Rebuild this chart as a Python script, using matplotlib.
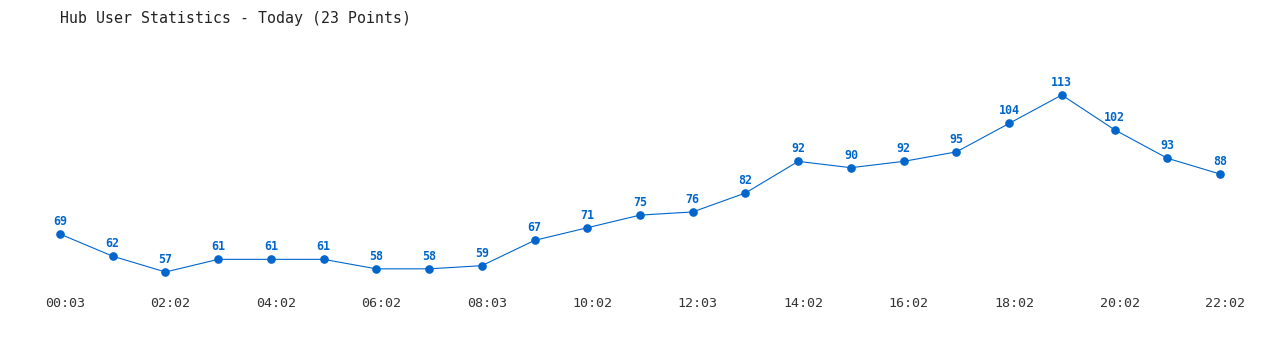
import matplotlib
matplotlib.use("Agg")
import matplotlib.pyplot as plt
import matplotlib.transforms as mtransforms

# donnees
times = ["00:03", "01:02", "02:02", "03:02", "04:02", "05:02", "06:02", "07:02",
         "08:03", "09:02", "10:02", "11:02", "12:03", "13:02", "14:02", "15:02",
         "16:02", "17:02", "18:02", "19:02", "20:02", "21:02", "22:02"]
users = [69, 62, 57, 61, 61, 61, 58, 58, 59, 67, 71, 75, 76, 82, 92, 90, 92, 95,
         104, 113, 102, 93, 88]
title = "Hub User Statistics - Today (23 Points)"

blue = "#0066cc"
mono = "DejaVu Sans Mono"

fig = plt.figure(figsize=(12.8, 3.5), dpi=100)
ax = fig.add_axes([0, 60/350, 1, 240/350])

n = len(users)
step = 1160 / (n - 1)
ax.set_xlim(-60/step, (n - 1) + 60/step)
ax.set_ylim(113 - 195/3.1607, 113 + 45/3.1607)

x = list(range(n))
ax.plot(x, users, color=blue, linewidth=0.8, marker="o", markersize=5.2)

#etiquettes des valeurs
for i, v in enumerate(users):
    ax.annotate(str(v), (i, v), xytext=(0, 4.3), textcoords="offset points",
                ha="center", va="bottom", color=blue, fontsize=8.4,
                fontweight="bold", family=mono)

ax.set_xticks(x[::2])
ax.set_xticklabels(times[::2], fontsize=9.6, family=mono, color="#333333")
ax.tick_params(axis="x", length=0, pad=5.0)
# decalage des etiquettes vers la droite
shift = mtransforms.ScaledTranslation(5/100, 0, fig.dpi_scale_trans)
for lab in ax.get_xticklabels():
    lab.set_transform(lab.get_transform() + shift)
ax.set_yticks([])
for s in ax.spines.values():
    s.set_visible(False)

fig.text(60/1280, 1 - 18/350, title, ha="left", va="center", fontsize=10.7,
         family=mono, color="#222222")

fig.savefig("out.png", dpi=100)
